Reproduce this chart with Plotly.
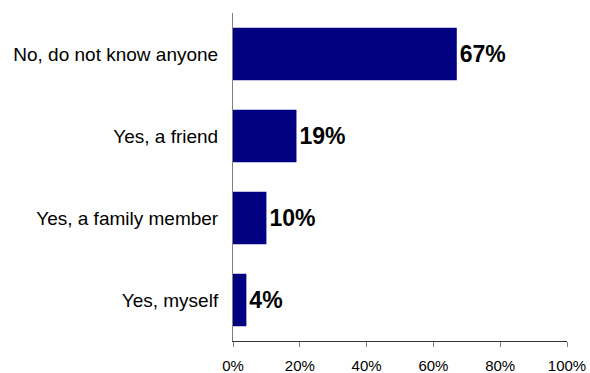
import plotly.graph_objects as go

categories = ["No, do not know anyone", "Yes, a friend", "Yes, a family member", "Yes, myself"]
values = [67, 19, 10, 4]
tick_vals = [0, 20, 40, 60, 80, 100]
tick_text = ["0%", "20%", "40%", "60%", "80%", "100%"]

fig = go.Figure(
    go.Bar(
        x=values,
        y=categories,
        orientation="h",
        marker=dict(color="#000080", line=dict(width=0)),
        text=[f"{v}%" for v in values],
        textposition="outside",
        cliponaxis=False,
        textfont=dict(family="Liberation Sans, Arial", size=23, color="#000000", weight="bold"),
    )
)

fig.update_layout(
    width=590,
    height=373,
    margin=dict(l=233, r=23, t=13, b=32),
    paper_bgcolor="white",
    plot_bgcolor="white",
    bargap=0.36,
    showlegend=False,
    font=dict(family="Liberation Sans, Arial", color="#000000"),
    xaxis=dict(
        range=[0, 100],
        tickvals=tick_vals,
        ticktext=tick_text,
        ticks="outside",
        ticklen=5,
        tickcolor="#808080",
        showline=True,
        linecolor="#333333",
        linewidth=1,
        showgrid=False,
        zeroline=False,
        automargin=False,
        ticklabelstandoff=6,
        tickfont=dict(size=15),
    ),
    yaxis=dict(
        categoryorder="array",
        categoryarray=categories[::-1],
        showline=True,
        linecolor="#808080",
        linewidth=1,
        showgrid=False,
        ticks="",
        automargin=False,
        ticklabelstandoff=10,
        tickfont=dict(size=19),
    ),
)

fig.write_html("out.html")
